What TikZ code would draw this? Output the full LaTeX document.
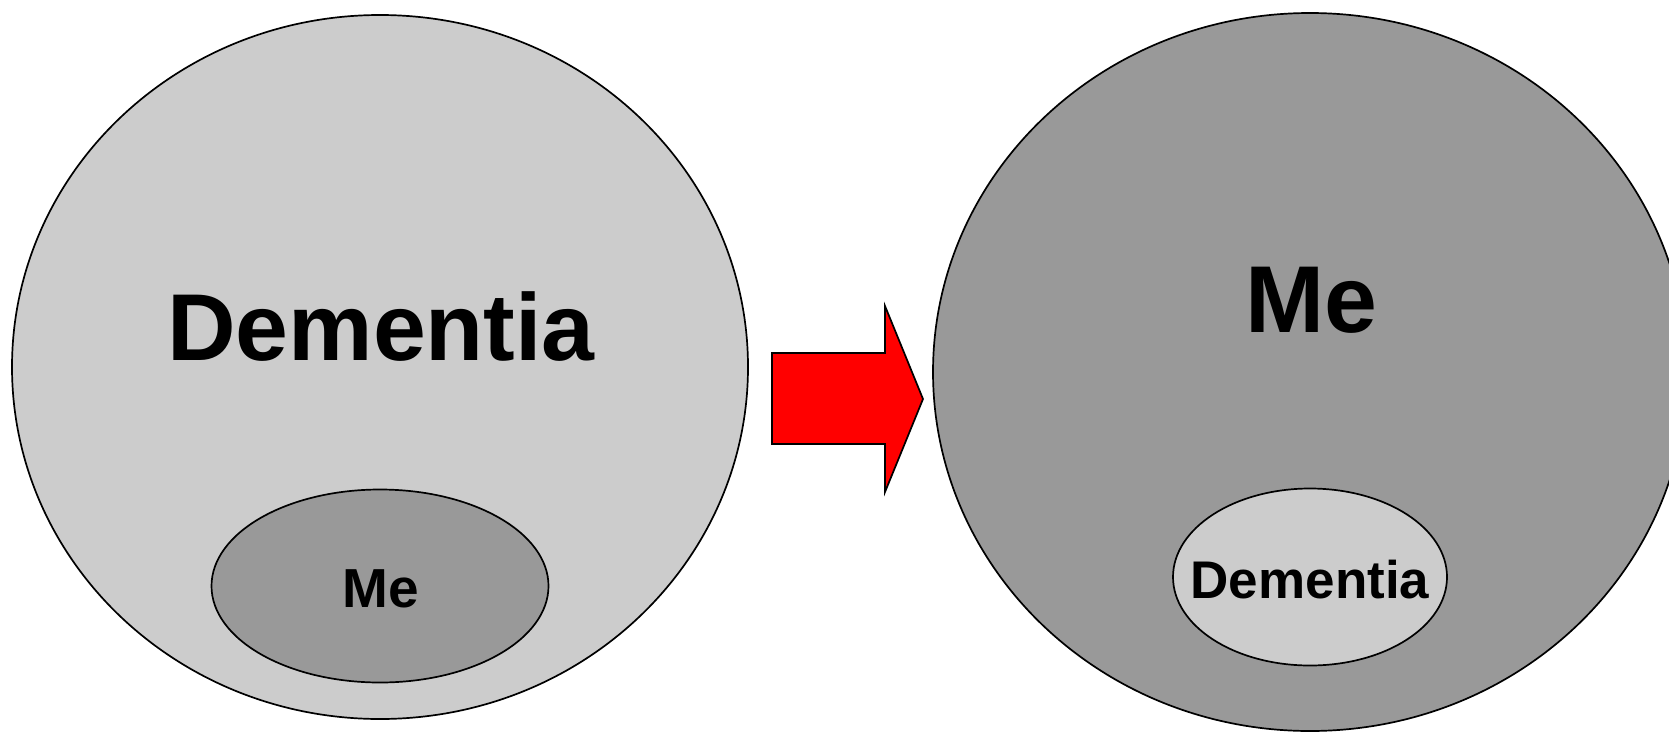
\documentclass[tikz,border=0pt]{standalone}
\usepackage{fontspec}
\setmainfont{Liberation Sans}
\usetikzlibrary{shapes.geometric}

\definecolor{lightgrey}{HTML}{CCCCCC}
\definecolor{darkgrey}{HTML}{999999}

\begin{document}
\begin{tikzpicture}[
	x=1pt, y=-1pt,
	blob/.style = {ellipse, draw=black, line width=1.7pt, inner sep=0pt},
	bigword/.style = {anchor=base, font=\fontsize{95}{100}\selectfont\bfseries},
	smallword/.style = {anchor=base, font=\fontsize{55}{60}\selectfont\bfseries}
	]
	\useasboundingbox (0,0) rectangle (1669,731);
	% left: dementia holds me
	\node [blob, fill=lightgrey, minimum width=736pt, minimum height=704pt] (outerL) at (380,367) {};
	\node [blob, fill=darkgrey, minimum width=337pt, minimum height=193pt] (innerL) at (380,586) {};
	\node [bigword] (dementiaL) at (381,360) {Dementia};
	\node [smallword] (meL) at (381,607) {Me};
	% right: me holds dementia
	\node [blob, fill=darkgrey, minimum width=754pt, minimum height=718pt] (outerR) at (1310,372) {};
	\node [blob, fill=lightgrey, minimum width=274pt, minimum height=177pt] (innerR) at (1310,577) {};
	\node [bigword] (meR) at (1311,332) {Me};
	\node [smallword, font=\fontsize{53}{60}\selectfont\bfseries] (dementiaR) at (1310,598) {Dementia};
	% the arrow between them
	\coordinate (tail) at (772,399);
	\coordinate (tip) at (923,399);
	\draw [fill=red, line width=1.7pt, line join=miter]
	(tail |- 0,353) -- (885,353) -- (885,306) -- (tip)
	-- (885,492) -- (885,444) -- (tail |- 0,444) -- cycle;
\end{tikzpicture}
\end{document}
